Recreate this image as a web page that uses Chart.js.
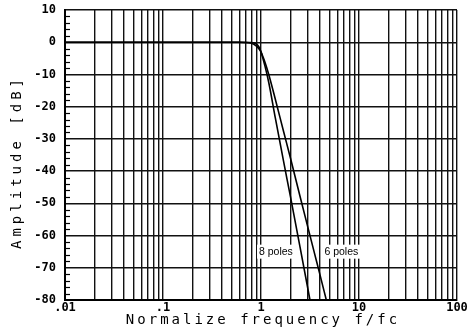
<!DOCTYPE html>
<html>
<head>
<meta charset="utf-8">
<script src="https://cdn.jsdelivr.net/npm/chart.js@4.4.1/dist/chart.umd.min.js"></script>
<style>
  html, body { margin: 0; padding: 0; background: #fff; }
  #wrap { width: 471px; height: 332px; }
</style>
</head>
<body>
<div id="wrap"><canvas id="filterChart" width="471" height="332"></canvas></div>
<script>
// values
const freq8 = [0.01, 0.3, 0.6, 0.8, 0.9, 0.95, 1.0, 1.05, 1.1, 1.2, 1.4, 1.7, 2.0, 2.5, 3.16];
const db8   = [0, 0, 0, -0.1, -0.6, -1.4, -3, -5.2, -7.5, -12.5, -23.5, -37, -48, -63.5, -80];

const freq6 = [0.01, 0.3, 0.6, 0.8, 0.9, 0.95, 1.0, 1.05, 1.1, 1.2, 1.4, 1.7, 2.0, 2.5, 3.0, 3.5, 4.0, 4.64];
const db6   = [0, 0, 0, -0.3, -1.2, -2, -3, -4.6, -6.3, -10, -17.7, -27.7, -36, -47.8, -57.3, -65.3, -72.2, -80];

const xTickLabels = { 0.01: '.01', 0.1: '.1', 1: '1', 10: '10', 100: '100' };
const yTicks = [-80, -70, -60, -50, -40, -30, -20, -10, 0, 10];

const curveLabels = [
    { text: '8 poles', f: 1.42, db: -65 },
    { text: '6 poles', f: 6.6, db: -65 }
];

function toPoints(xs, ys) {
    return xs.map(function(x, i) { return { x: x, y: ys[i] }; });
}

const minorTicks = {
    id: 'minorTicks',
    afterDatasetsDraw(chart) {
        const ctx = chart.ctx;
        const y = chart.scales.y;
        const left = chart.chartArea.left;
        ctx.save();
        ctx.strokeStyle = '#000';
        ctx.lineWidth = 1.2;
        for (let v = -80; v <= 10; v += 2) {
            if (v % 10 === 0) continue;
            const py = Math.round(y.getPixelForValue(v)) + 0.5;
            ctx.beginPath();
            ctx.moveTo(left, py);
            ctx.lineTo(left + 5, py);
            ctx.stroke();
        }
        ctx.restore();
    }
};

const poleLabels = {
    id: 'poleLabels',
    afterDatasetsDraw(chart) {
        const ctx = chart.ctx;
        ctx.save();
        ctx.font = '10.5px "Liberation Sans", Arial, sans-serif';
        ctx.textAlign = 'center';
        ctx.textBaseline = 'middle';
        curveLabels.forEach(function(l) {
            const px = chart.scales.x.getPixelForValue(l.f);
            const py = chart.scales.y.getPixelForValue(l.db);
            const w = ctx.measureText(l.text).width;
            ctx.fillStyle = '#fff';
            ctx.fillRect(px - w / 2 - 2, py - 7, w + 4, 14);
            ctx.fillStyle = '#000';
            ctx.fillText(l.text, px, py);
        });
        ctx.restore();
    }
};

const axisTitles = {
    id: 'axisTitles',
    afterDraw(chart) {
        const ctx = chart.ctx;
        const area = chart.chartArea;
        ctx.save();
        ctx.fillStyle = '#000';
        ctx.font = '14px "DejaVu Sans Mono", monospace';
        ctx.textAlign = 'center';
        ctx.textBaseline = 'middle';
        ctx.letterSpacing = '3px';
        ctx.fillText('Normalize frequency f/fc', (area.left + area.right) / 2 + 2, 320);
        ctx.letterSpacing = '4px';
        ctx.translate(17, 164);
        ctx.rotate(-Math.PI / 2);
        ctx.fillText('Amplitude [dB]', 2, 0);
        ctx.restore();
    }
};

new Chart(document.getElementById('filterChart').getContext('2d'), {
    type: 'line',
    data: {
        datasets: [{
            label: '8 poles',
            data: toPoints(freq8, db8),
            borderColor: '#000',
            borderWidth: 1.6,
            pointRadius: 0,
            cubicInterpolationMode: 'monotone'
        }, {
            label: '6 poles',
            data: toPoints(freq6, db6),
            borderColor: '#000',
            borderWidth: 1.6,
            pointRadius: 0,
            cubicInterpolationMode: 'monotone'
        }]
    },
    options: {
        responsive: false,
        animation: false,
        layout: { padding: { top: 10, right: 14, left: 0, bottom: 0 } },
        plugins: {
            legend: { display: false },
            tooltip: { enabled: false }
        },
        scales: {
            x: {
                type: 'logarithmic',
                min: 0.01,
                max: 100,
                afterBuildTicks(scale) {
                    const ticks = [];
                    for (let d = 0.01; d < 100; d *= 10) {
                        for (let k = 1; k < 10; k++) ticks.push({ value: +(d * k).toPrecision(3) });
                    }
                    ticks.push({ value: 100 });
                    scale.ticks = ticks;
                },
                afterFit(scale) {
                    scale.height = 32;
                    scale.paddingLeft = 0;
                    scale.paddingRight = 0;
                },
                ticks: {
                    autoSkip: false,
                    maxRotation: 0,
                    padding: 1,
                    color: '#000',
                    font: { family: '"DejaVu Sans Mono", monospace', size: 12, weight: 'bold' },
                    callback: function(v) { return xTickLabels[v] !== undefined ? xTickLabels[v] : ''; }
                },
                grid: { color: '#111', lineWidth: 1.4, drawTicks: false },
                border: { color: '#000', width: 2 }
            },
            y: {
                min: -80,
                max: 10,
                afterBuildTicks(scale) {
                    scale.ticks = yTicks.map(function(v) { return { value: v }; });
                },
                afterFit(scale) {
                    scale.width = 65;
                    scale.paddingTop = 0;
                    scale.paddingBottom = 0;
                },
                ticks: {
                    padding: 9,
                    color: '#000',
                    font: { family: '"DejaVu Sans Mono", monospace', size: 12, weight: 'bold' }
                },
                grid: { color: '#111', lineWidth: 1.4, drawTicks: false },
                border: { color: '#000', width: 2 }
            }
        }
    },
    plugins: [minorTicks, poleLabels, axisTitles]
});
</script>
</body>
</html>
